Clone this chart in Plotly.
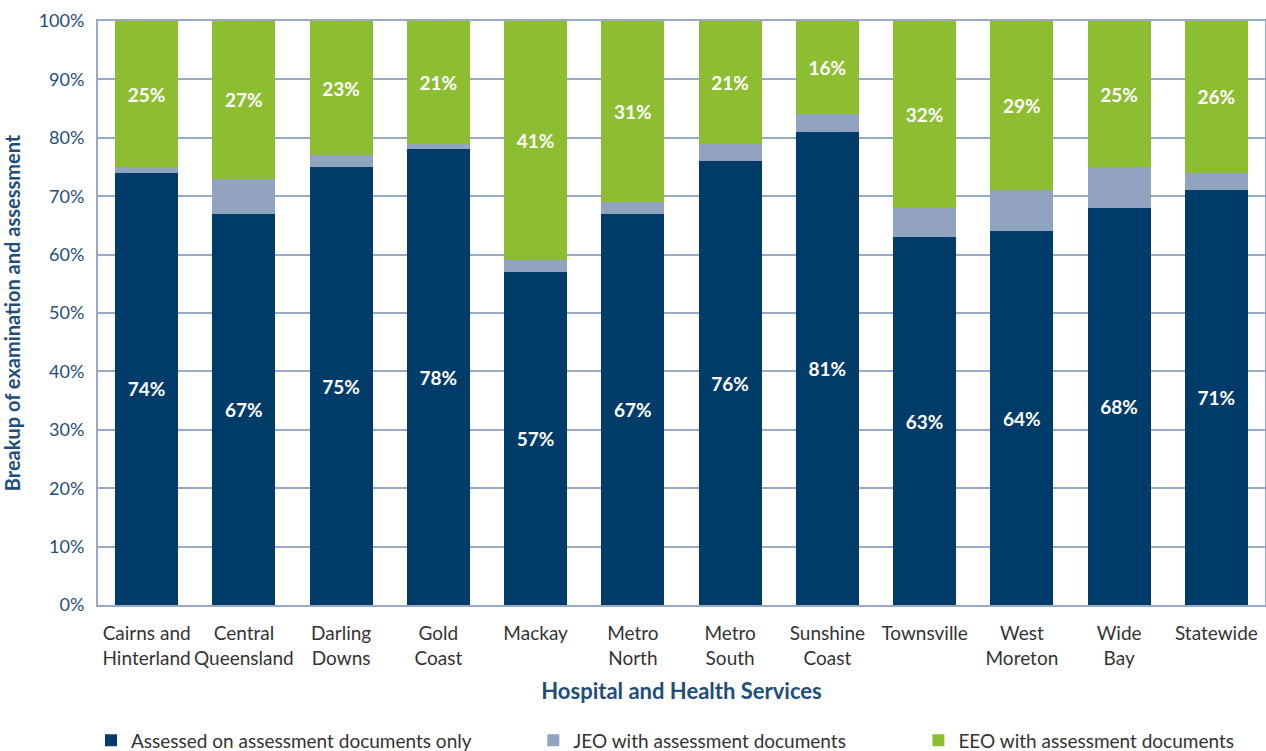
import plotly.graph_objects as go

categories = [
    "Cairns and<br>Hinterland", "Central<br>Queensland", "Darling<br>Downs", "Gold<br>Coast",
    "Mackay", "Metro<br>North", "Metro<br>South", "Sunshine<br>Coast", "Townsville",
    "West<br>Moreton", "Wide<br>Bay", "Statewide",
]
assessed_only = [74, 67, 75, 78, 57, 67, 76, 81, 63, 64, 68, 71]
jeo_docs = [1, 6, 2, 1, 2, 2, 3, 3, 5, 7, 7, 3]
eeo_docs = [25, 27, 23, 21, 41, 31, 21, 16, 32, 29, 25, 26]
y_ticks = [0, 10, 20, 30, 40, 50, 60, 70, 80, 90, 100]

NAVY = "#003c69"
GREY = "#91a3bf"
GREEN = "#8dbe31"
AXIS_BLUE = "#1f4e79"
LINE = "#9aaac4"
FONT = "Lato"

label_font = dict(color="white", size=19, family=FONT, weight="bold")

fig = go.Figure()
fig.add_trace(go.Bar(
    x=categories, y=assessed_only, name="Assessed on assessment documents only",
    marker=dict(color=NAVY, line=dict(width=0)), legend="legend", showlegend=True,
    text=[f"{v}%" for v in assessed_only], textposition="inside",
    insidetextanchor="middle", textangle=0, textfont=label_font,
))
fig.add_trace(go.Bar(
    x=categories, y=jeo_docs, name="JEO with assessment documents",
    marker=dict(color=GREY, line=dict(width=0)), legend="legend2", showlegend=True,
))
fig.add_trace(go.Bar(
    x=categories, y=eeo_docs, name="EEO with assessment documents",
    marker=dict(color=GREEN, line=dict(width=0)), legend="legend3", showlegend=True,
    text=[f"{v}%" for v in eeo_docs], textposition="inside",
    insidetextanchor="middle", textangle=0, textfont=label_font,
))

legend_style = dict(
    orientation="h", xanchor="left", yanchor="middle", y=-0.232,
    font=dict(size=19, color="#333333", family=FONT),
    bgcolor="rgba(0,0,0,0)", itemwidth=30, visible=True,
)

fig.update_layout(
    barmode="stack",
    bargap=0.35,
    width=1266, height=751,
    showlegend=True,
    margin=dict(l=98, r=1, t=21, b=146, autoexpand=False),
    paper_bgcolor="white", plot_bgcolor="white",
    font=dict(family=FONT, color="#333333"),
    legend=dict(x=-0.006, **legend_style),
    legend2=dict(x=0.373, **legend_style),
    legend3=dict(x=0.703, **legend_style),
    xaxis=dict(
        title=dict(text="Hospital and Health Services", standoff=16,
                   font=dict(size=22, color=AXIS_BLUE, family=FONT, weight="bold")),
        tickfont=dict(size=19, color="#333333", family=FONT), tickangle=0,
        showline=True, linecolor=LINE, linewidth=2, mirror=True,
        ticks="", showgrid=False, ticklabelstandoff=10,
    ),
    yaxis=dict(
        title=dict(text="Breakup of examination and assessment", standoff=14,
                   font=dict(size=20, color=AXIS_BLUE, family=FONT, weight="bold")),
        range=[0, 100], tickvals=y_ticks, ticktext=[f"{v}%" for v in y_ticks],
        tickfont=dict(size=18, color=AXIS_BLUE, family=FONT),
        showgrid=True, gridcolor=LINE, gridwidth=2,
        showline=True, linecolor=LINE, linewidth=2, mirror=True,
        ticks="", zeroline=False, ticklabelstandoff=8,
    ),
)

fig.write_html("out.html")
